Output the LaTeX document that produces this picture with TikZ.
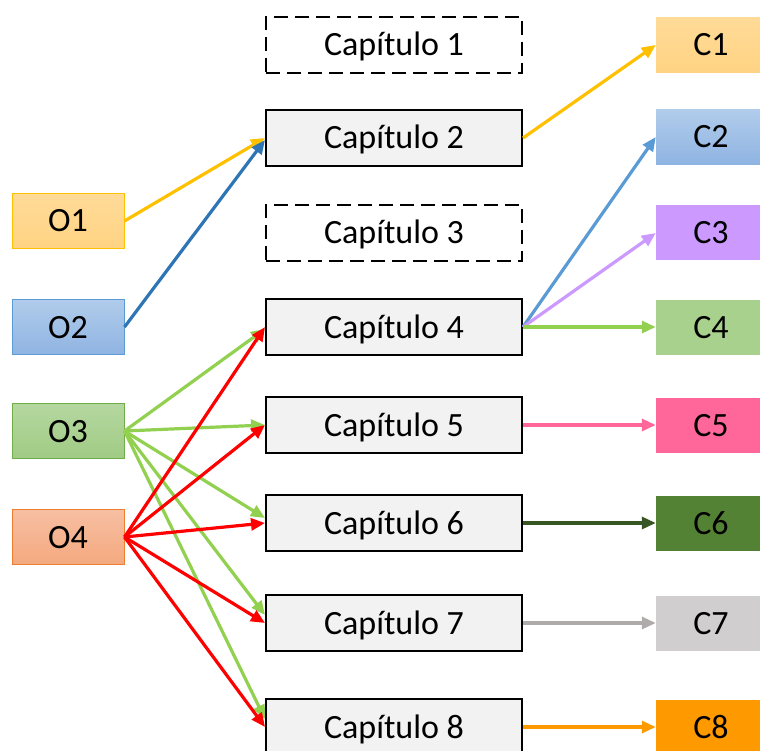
\documentclass[tikz,border=0pt]{standalone}
\usepackage{fontspec}
\setmainfont{Carlito}
\usetikzlibrary{arrows.meta,calc}
\definecolor{capgray}{HTML}{F2F2F2}
\definecolor{cyellow}{HTML}{FFC000}
\definecolor{cdblue}{HTML}{2E75B6}
\definecolor{cblue}{HTML}{5B9BD5}
\definecolor{clav}{HTML}{CC99FF}
\definecolor{cgreen}{HTML}{92D050}
\definecolor{cred}{HTML}{FF0000}
\definecolor{cpink}{HTML}{FF6699}
\definecolor{cdgreen}{HTML}{375623}
\definecolor{cgray}{HTML}{AFABAB}
\definecolor{corange}{HTML}{FF9900}
% box fills
\definecolor{ytop}{HTML}{FFDB98}
\definecolor{ybot}{HTML}{FFD383}
\definecolor{btop}{HTML}{B1CCEB}
\definecolor{bbot}{HTML}{8FB4E2}
\definecolor{gtop}{HTML}{B5D7A0}
\definecolor{gbot}{HTML}{A0CB84}
\definecolor{gline}{HTML}{70AD47}
\definecolor{rtop}{HTML}{F7BFA2}
\definecolor{rbot}{HTML}{F4A97F}
\definecolor{rline}{HTML}{ED7D31}
\definecolor{c4fill}{HTML}{A9D18E}
\definecolor{c6fill}{HTML}{548235}
\definecolor{c7fill}{HTML}{D0CECE}
\begin{document}
\begin{tikzpicture}[x=1pt,y=-1pt,
  lbl/.style={font=\fontsize{34}{40}\selectfont, text=black, text height=22pt, text depth=0pt},
  obox/.style={lbl, draw, line width=1pt, minimum width=112pt, minimum height=55pt, inner sep=0pt},
  capbox/.style={lbl, draw=black, line width=2pt, fill=capgray, minimum width=256pt, minimum height=56pt, inner sep=0pt},
  capdash/.style={capbox, fill=white, dash pattern=on 14pt off 7pt},
  cbox/.style={lbl, minimum width=110pt, minimum height=55pt, inner sep=0pt},
  link/.style={line width=3.2pt, -{Triangle[length=14pt,width=12pt]}}]
\useasboundingbox (0,0) rectangle (760,751);

% source boxes
\node[obox, draw=cyellow, top color=ytop, bottom color=ybot] (o1) at (68,221) {O1};
\node[obox, draw=cblue, top color=btop, bottom color=bbot] (o2) at (68,327) {O2};
\node[obox, draw=gline, top color=gtop, bottom color=gbot] (o3) at (68,431) {O3};
\node[obox, draw=rline, top color=rtop, bottom color=rbot] (o4) at (68,537) {O4};

% chapters
\node[capdash] (k1) at (394,45) {Capítulo 1};
\node[capbox]  (k2) at (394,138) {Capítulo 2};
\node[capdash] (k3) at (394,233) {Capítulo 3};
\node[capbox]  (k4) at (394,327) {Capítulo 4};
\node[capbox]  (k5) at (394,425) {Capítulo 5};
\node[capbox]  (k6) at (394,523) {Capítulo 6};
\node[capbox]  (k7) at (394,623) {Capítulo 7};
\node[capbox]  (k8) at (394,727) {Capítulo 8};

% target boxes
\node[cbox, top color=ytop, bottom color=ybot] (c1) at (711,45) {C1};
\node[cbox, top color=btop, bottom color=bbot] (c2) at (711,137) {C2};
\node[cbox, fill=clav] (c3) at (711,233) {C3};
\node[cbox, fill=c4fill] (c4) at (711,327) {C4};
\node[cbox, fill=cpink] (c5) at (711,425) {C5};
\node[cbox, fill=c6fill] (c6) at (711,523) {C6};
\node[cbox, fill=c7fill] (c7) at (711,623) {C7};
\node[cbox, fill=corange] (c8) at (711,727) {C8};

% sources to chapters
\draw[link, cyellow] (o1.east) -- (k2.west);
\draw[link, cdblue] (o2.east) -- ($(k2.west)+(0,2)$);
\foreach \k/\d in {k4/2, k5/0, k6/-5, k7/-8, k8/-8}
  \draw[link, cgreen] (o3.east) -- ($(\k.west)+(0,\d)$);
\foreach \k in {k4, k5, k6, k7, k8}
  \draw[link, cred] (o4.east) -- (\k.west);

% chapters to contributions
\draw[link, cyellow] (k2.east) -- (c1.west);
\draw[link, cblue] (k4.east) -- (c2.west);
\draw[link, clav] (k4.east) -- (c3.west);
\draw[link, cgreen] (k4.east) -- (c4.west);
\draw[link, cpink] (k5.east) -- (c5.west);
\draw[link, cdgreen] (k6.east) -- (c6.west);
\draw[link, cgray] (k7.east) -- (c7.west);
\draw[link, corange] (k8.east) -- (c8.west);
\end{tikzpicture}
\end{document}
